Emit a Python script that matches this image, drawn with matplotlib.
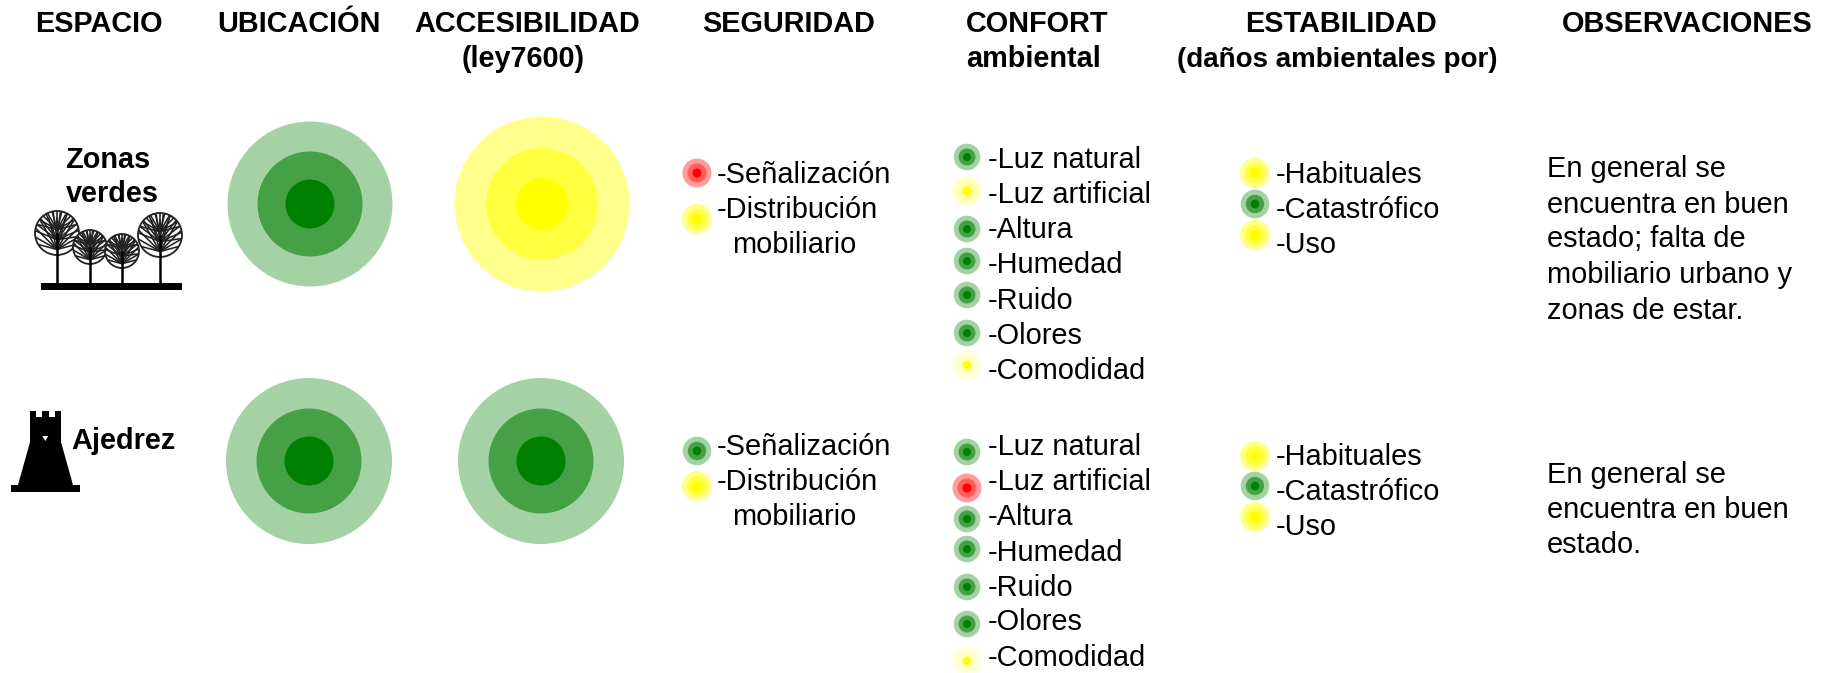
import numpy as np
import matplotlib
matplotlib.use('Agg')
import matplotlib.pyplot as plt
from matplotlib.patches import Circle, Polygon, Rectangle

plt.rcParams['font.family'] = ['Liberation Sans', 'DejaVu Sans']

# Data: texts and the state of each item
headers = ['ESPACIO', 'UBICACIÓN', 'ACCESIBILIDAD', 'SEGURIDAD', 'ESTABILIDAD', 'OBSERVACIONES']
subheaders = ['(ley7600)', '(daños ambientales por)']
header_confort = ['CONFORT', 'ambiental']

seguridad_labels = ['-Señalización', '-Distribución']
confort_labels = ['-Luz natural', '-Luz artificial', '-Altura', '-Humedad',
                  '-Ruido', '-Olores', '-Comodidad']
estabilidad_labels = ['-Habituales', '-Catastrófico', '-Uso']

ubicacion = ['verde', 'verde']
accesibilidad = ['amarillo', 'verde']
seguridad_1 = ['rojo', 'amarillo']
seguridad_2 = ['verde', 'amarillo']
confort_1 = ['verde', 'claro', 'verde', 'verde', 'verde', 'verde', 'palido']
confort_2 = ['verde', 'rojo', 'verde', 'verde', 'verde', 'verde', 'palido']
estabilidad_1 = ['amarillo', 'verde', 'amarillo']
estabilidad_2 = ['amarillo', 'verde', 'amarillo']

obs_1 = ['En general se', 'encuentra en buen', 'estado; falta de',
         'mobiliario urbano y', 'zonas de estar.']
obs_2 = ['En general se', 'encuentra en buen', 'estado.']

# Styles: ring colours from outside to inside
colors = {
    'verde': ['#A5D2A5', '#46A046', '#008000'],
    'amarillo': ['#FFFF8C', '#FFFF40', '#FFFF00'],
    'rojo': ['#FF9C9C', '#FF5C5C', '#FF0000'],
    'claro': ['#FFFFCC', '#FFFFA6', '#FFFF00'],
    'palido': ['#FFFFE2', '#FFFFC8', '#FFFF00'],
}
small_radius = {
    'verde': [13.3, 8.5, 4],
    'amarillo': [15, 10, 5],
    'rojo': [14.5, 9.5, 4.5],
    'claro': [15, 10, 4.5],
    'palido': [15.5, 10, 4.5],
}

fig = plt.figure(figsize=(18.34, 6.73), dpi=100)
ax = fig.add_axes([0, 0, 1, 1])
ax.set_xlim(0, 1834)
ax.set_ylim(673, 0)
ax.axis('off')

FS = 20.9
FS_BOLD = 20.8


def rings(x, y, state, radii):
    for r, c in zip(radii, colors[state]):
        ax.add_patch(Circle((x, y), r, facecolor=c, edgecolor='none'))


def small(x, y, state, wide=False):
    radii = small_radius[state]
    if wide and state == 'verde':
        radii = [14.3, 9.2, 4.3]
    rings(x, y, state, radii)


def label(x, y, s, **kw):
    ax.text(x, y, s, fontsize=FS, ha='left', va='baseline', color='black', **kw)


def bold(x, y, s, ha='center', size=FS_BOLD):
    ax.text(x, y, s, fontsize=size, fontweight='bold', ha=ha, va='baseline')


def tree(x, y, r, ground):
    crown = Circle((x, y), r, facecolor='white', edgecolor='#222222', lw=1.3)
    ax.add_patch(crown)
    # fan of branches from the trunk, clipped to the crown
    for k, start in enumerate([0.75, 0.3, -0.15]):
        for a in np.linspace(-75, 75, 11):
            a2 = np.radians(a + (k % 2) * 7)
            x0 = x
            y0 = y + r * start
            line, = ax.plot([x0, x0 + np.sin(a2) * r * 1.5],
                            [y0, y0 - np.cos(a2) * r * 1.5],
                            color='#222222', lw=1.15, solid_capstyle='butt')
            line.set_clip_path(crown)
    ax.plot([x, x], [y, ground], color='black', lw=1.8, solid_capstyle='butt')


# Headers
for x, s in zip([99, 299, 527, 789, 1341, 1687], headers):
    bold(x, 32, s)
for x, s, size in zip([523, 1337.5], subheaders, [FS_BOLD, 20.0]):
    bold(x, 67, s, size=size)
bold(966, 32, header_confort[0], ha='left')
bold(966, 67, header_confort[1], ha='left')

# Space names and icons
bold(108, 168, 'Zonas')
bold(112, 202, 'verdes')
bold(71, 449, 'Ajedrez', ha='left')

for tx, ty, tr in zip([57, 90, 122, 160], [233, 247, 251, 235], [22, 17, 17, 22]):
    tree(tx, ty, tr, 284)
ax.add_patch(Rectangle((41, 283), 141, 7, facecolor='black', edgecolor='none'))

rook = [(11, 492), (80, 492), (80, 485), (73, 485), (61, 442), (61, 411), (55, 411),
        (55, 417), (49, 417), (49, 411), (42, 411), (42, 417), (36, 417), (36, 411),
        (30, 411), (30, 442), (18, 485), (11, 485)]
ax.add_patch(Polygon(rook, closed=True, facecolor='black', edgecolor='none'))
ax.add_patch(Polygon([(42.3, 436), (48.3, 436), (45.3, 441)], closed=True,
                     facecolor='white', edgecolor='none'))

# Big rings
rings(310, 204, ubicacion[0], [82.5, 52.5, 24.5])
rings(542, 204, accesibilidad[0], [87.5, 56, 26])
rings(309, 461, ubicacion[1], [83, 52.5, 24.5])
rings(541, 461, accesibilidad[1], [83, 52.5, 24.5])

# Seguridad
for st, y in zip(seguridad_1, [173, 219]):
    small(697, y, st, wide=True)
for st, y in zip(seguridad_2, [451, 486]):
    small(697, y, st, wide=True)
for lab, y in zip(seguridad_labels, [183, 218]):
    label(717, y, lab)
for lab, y in zip(seguridad_labels, [455, 490]):
    label(717, y, lab)
label(732, 253, 'mobiliario')
label(732, 525, 'mobiliario')

# Confort
for st, y in zip(confort_1, [157, 191, 229, 261, 295, 333, 365]):
    small(967, y, st)
for st, y in zip(confort_2, [452, 488, 519, 549, 587, 624, 661]):
    small(967, y, st)
for lab, y in zip(confort_labels, [168, 203, 238, 273, 309, 344, 379]):
    label(988, y, lab)
for lab, y in zip(confort_labels, [455, 490, 525, 561, 596, 630, 666]):
    label(988, y, lab)

# Estabilidad
for st, y in zip(estabilidad_1, [173, 204, 235]):
    small(1255, y, st, wide=True)
for st, y in zip(estabilidad_2, [456, 486, 517]):
    small(1255, y, st, wide=True)
for lab, y in zip(estabilidad_labels, [183, 218, 253]):
    label(1276, y, lab)
for lab, y in zip(estabilidad_labels, [465, 500, 535]):
    label(1276, y, lab)

# Observaciones
for s, y in zip(obs_1, [177, 213, 247, 283, 319]):
    label(1547, y, s)
for s, y in zip(obs_2, [483, 518, 553]):
    label(1547, y, s)

fig.savefig('out.png', dpi=100, facecolor='white')
